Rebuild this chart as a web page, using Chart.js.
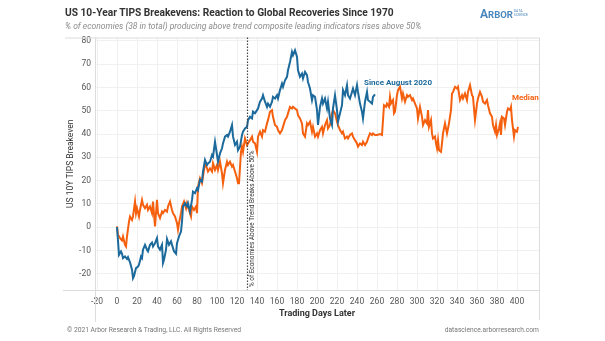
<!DOCTYPE html>
<html>
<head>
<meta charset="utf-8">
<script src="https://cdn.jsdelivr.net/npm/chart.js@4.4.1/dist/chart.umd.min.js"></script>
<style>
  body { margin: 0; background: #fff; font-family: Roboto, "Open Sans", sans-serif; }
  #wrap { position: relative; width: 605px; height: 341px; overflow: hidden; }
  #chart { position: absolute; left: 0; top: 0; }
  .title { position: absolute; left: 65px; top: 7px; font-size: 10.2px; font-weight: bold; color: #333; white-space: nowrap; }
  .subtitle { position: absolute; left: 65px; top: 21px; font-size: 8.5px; font-style: italic; color: #8c8c8c; white-space: nowrap; }
  .logo { position: absolute; left: 480px; top: 3px; color: #4a87bd; white-space: nowrap; font-weight: bold; }
  .logo .big { font-size: 12px; }
  .logo .small { font-size: 9.5px; }
  .logo .tag { display: inline-block; font-size: 3.5px; line-height: 4px; vertical-align: 2px; margin-left: 1px; font-weight: normal; }
  .foot { position: absolute; top: 326px; font-size: 6.7px; color: #777; white-space: nowrap; }
</style>
</head>
<body>
<div id="wrap">
  <canvas id="chart" width="605" height="341"></canvas>
  <div class="title">US 10-Year TIPS Breakevens: Reaction to Global Recoveries Since 1970</div>
  <div class="subtitle">% of economies (38 in total) producing above trend composite leading indicators rises above 50%</div>
  <div class="logo"><span class="big">A</span><span class="small">RBOR</span><span class="tag">DATA<br>SCIENCE</span></div>
  <div class="foot" style="left:67px">© 2021 Arbor Research &amp; Trading, LLC. All Rights Reserved</div>
  <div class="foot" style="right:66px">datascience.arborresearch.com</div>
</div>
<script>
// Trading days after the break, and breakeven change (bp)
const sinceDays = [0, 2, 4, 5, 6, 8, 10, 11, 13, 15, 16, 17, 19, 21, 22, 24, 25, 26, 28, 30, 31, 33, 35, 36, 38, 40, 41, 43, 45, 46, 47, 49, 50, 52, 54, 56, 57, 59, 60, 62, 64, 65, 66, 68, 70, 71, 73, 75, 76, 78, 80, 81, 83, 85, 86, 88, 90, 91, 93, 95, 96, 98, 100, 101, 103, 105, 106, 108, 110, 111, 113, 115, 116, 118, 120, 121, 123, 125, 126, 128, 130, 131, 133, 135, 136, 138, 140, 141, 143, 145, 146, 148, 150, 151, 153, 155, 156, 158, 160, 161, 163, 165, 166, 168, 170, 171, 173, 175, 176, 178, 180, 181, 183, 185, 186, 188, 190, 191, 193, 195, 196, 198, 200, 201, 203, 205, 206, 208, 210, 211, 213, 215, 216, 218, 220, 221, 223, 225, 226, 228, 230, 231, 233, 235, 236, 238, 240, 241, 243, 245, 246, 248, 250, 251, 253, 255, 256, 258];
const sinceVals = [0, -11.9, -10.4, -11.4, -13.3, -12.6, -13.7, -12.9, -15.1, -18.3, -21.9, -21, -17.6, -16.9, -16.1, -12.6, -13.3, -9.7, -7.6, -9.7, -10.4, -7.6, -6.6, -8.3, -6.9, -4.7, -8.3, -9.7, -7.6, -15.4, -14, -9.7, -5.1, -7.6, -6.1, -9, -10.4, -11.4, -6.9, -4, -1.9, 2.4, 8.9, 10.3, 8.9, 10.3, 6.7, 11.7, 15.3, 14.6, 16.7, 16, 20.3, 19.6, 23.9, 28.9, 26.7, 27.4, 28.1, 31, 30.3, 36.7, 31, 28.1, 31.7, 33.9, 36, 38.9, 39.6, 38.9, 41, 43.9, 39, 35.3, 36.7, 33.1, 34.6, 39.6, 41, 42.4, 43.1, 46, 47.4, 46.7, 49.6, 48.9, 50.3, 51, 53.9, 55.3, 56.7, 53.9, 51.7, 53.1, 51.7, 53.9, 56, 55.3, 56.7, 55.3, 58.9, 61.7, 60.3, 63.1, 64.6, 67.4, 71, 75.3, 73.9, 76, 73.1, 67.4, 64.6, 66, 63.9, 66.7, 65.3, 62.4, 59.6, 54.6, 56.7, 56, 50.3, 43.9, 51.7, 55.3, 53.1, 55.3, 51, 53.9, 46.7, 43.9, 51, 56.7, 50.3, 45.3, 48.9, 52.4, 58.9, 56.7, 61, 56.7, 55.3, 58.1, 59.6, 56.7, 61, 58.1, 53.1, 49.6, 46.7, 53.9, 58.1, 54.6, 53.9, 53.1, 56, 57.1];

const medianDays = [0, 1, 3, 5, 6, 8, 9, 10, 12, 13, 15, 16, 18, 19, 20, 22, 23, 25, 26, 28, 30, 31, 33, 35, 36, 38, 40, 41, 43, 45, 46, 48, 50, 51, 53, 55, 56, 58, 60, 61, 62, 64, 65, 67, 69, 70, 72, 74, 75, 77, 79, 80, 81, 83, 85, 86, 88, 90, 91, 93, 95, 96, 98, 100, 101, 103, 105, 106, 108, 110, 111, 113, 115, 116, 118, 120, 121, 122, 124, 125, 126, 128, 130, 131, 133, 135, 136, 138, 140, 141, 143, 145, 146, 148, 150, 151, 153, 155, 156, 158, 160, 161, 163, 165, 166, 168, 170, 171, 173, 175, 176, 178, 180, 181, 183, 185, 186, 188, 190, 191, 193, 195, 196, 198, 200, 201, 203, 205, 206, 208, 210, 211, 213, 215, 216, 218, 220, 221, 223, 225, 226, 228, 230, 231, 233, 235, 236, 238, 240, 241, 243, 245, 246, 248, 250, 251, 253, 255, 256, 258, 260, 263, 265, 267, 269, 270, 272, 273, 274, 276, 277, 278, 280, 281, 283, 285, 286, 288, 290, 291, 293, 295, 296, 298, 300, 301, 303, 305, 306, 308, 310, 311, 312, 314, 315, 316, 318, 319, 320, 321, 322, 324, 325, 326, 328, 330, 331, 332, 334, 335, 336, 338, 340, 341, 343, 345, 346, 348, 350, 351, 353, 355, 356, 358, 360, 361, 363, 365, 366, 368, 370, 371, 373, 375, 376, 378, 379, 380, 382, 383, 384, 385, 387, 388, 390, 391, 393, 394, 395, 397, 398, 400, 401];
const medianVals = [0.3, -3.3, -4.7, -5.7, -4, -7.6, -8.3, -4, 2.4, 4.6, 3.1, 4.6, 11, 6, 8.1, 4.6, 7.4, 11.7, 9.6, 8.1, 9.6, 7.4, 8.9, 6, 11, 0.3, 11.7, 6, 3.9, 6.7, 6, 7.4, 6.7, 8.9, 11, 7.4, 6, 4.6, 1.7, -1.1, 1.7, 6, 8.9, 11, 8.1, 10.3, 7.4, 4.6, 8.9, 7.4, 8.9, 6, 17.4, 21, 18.9, 21.7, 27.4, 25.3, 23.9, 25.3, 23.9, 27.4, 24.6, 26.7, 24.6, 28.1, 23.1, 18.9, 24.6, 28.1, 26.7, 28.1, 26, 26.7, 23.9, 21, 18.9, 18.9, 32.4, 34.6, 32.4, 38.1, 35.3, 36, 37.4, 38.9, 36.7, 36, 32.4, 38.9, 41, 38.9, 41.7, 41, 44.6, 46, 49.6, 50.3, 47.4, 43.9, 43.1, 41.7, 40.3, 41.7, 43.1, 46, 47.4, 48.9, 51.7, 51, 51.7, 51, 50.3, 48.1, 46.7, 44.6, 40.3, 38.9, 44.6, 43.9, 45.3, 41, 43.1, 38.9, 40.3, 38.9, 41.7, 43.1, 40.3, 43.9, 46, 42.4, 43.9, 48.9, 50.3, 48.9, 45.3, 43.9, 41.7, 40.3, 41, 38.1, 38.9, 38.1, 39.6, 40.3, 38.9, 37.4, 36, 34.6, 36, 35.3, 36.7, 35.3, 36.7, 38.1, 40.3, 39.6, 40.3, 39.6, 39.6, 40, 39.6, 52.4, 51.7, 53.1, 51.7, 56, 53.1, 54.6, 48.9, 49.6, 56.7, 58.9, 60.3, 55.3, 57.4, 53.9, 56.7, 56, 56.7, 54.6, 55.3, 53.1, 51, 46.7, 51.7, 47.4, 43.9, 46, 44.6, 50.3, 43.1, 46, 40.3, 38.1, 38.9, 36, 33.9, 37.4, 33.1, 32.4, 36, 40.3, 44.6, 40.3, 42.4, 44.6, 50.3, 57.4, 58.1, 60.3, 59.6, 60.3, 54.6, 56.7, 55.3, 57.4, 54.6, 58.1, 61, 56.7, 56, 46, 53.1, 55.3, 58.1, 56, 53.9, 53.1, 54.6, 52.4, 48.9, 47.4, 43.9, 41, 43.9, 39.6, 42.4, 44.6, 39.6, 47.4, 46.7, 43.9, 49.6, 51, 50.3, 51.7, 46, 38.9, 41.7, 41, 43.1];

const xTicks = [-20, 0, 20, 40, 60, 80, 100, 120, 140, 160, 180, 200, 220, 240, 260, 280, 300, 320, 340, 360, 380, 400];
const yTicks = [-20, -10, 0, 10, 20, 30, 40, 50, 60, 70, 80];
const breakDay = 130;
const breakLabel = '% of Economies Above Trend Breaks Above 50%';

const BLUE = '#1c6a9c';
const ORANGE = '#f5600f';

const toPoints = (xs, ys) => xs.map((x, i) => ({ x: x, y: ys[i] }));

// frame lines, dotted break line and end-of-line labels
const decor = {
  id: 'decor',
  beforeDatasetsDraw(chart) {
    const { ctx, chartArea: a } = chart;
    ctx.save();
    ctx.strokeStyle = '#dcdcdc';
    ctx.lineWidth = 1;
    ctx.beginPath();
    ctx.moveTo(a.left - 30, a.top + 0.5); ctx.lineTo(a.right, a.top + 0.5);
    ctx.moveTo(a.left - 32, a.bottom + 0.5); ctx.lineTo(a.right, a.bottom + 0.5);
    ctx.moveTo(a.left + 0.5, a.top); ctx.lineTo(a.left + 0.5, a.bottom + 32);
    ctx.moveTo(a.right + 0.5, a.top); ctx.lineTo(a.right + 0.5, a.bottom + 30);
    ctx.stroke();
    ctx.restore();
  },
  afterDatasetsDraw(chart) {
    const { ctx, chartArea: a, scales: { x, y } } = chart;
    ctx.save();
    // break line
    const bx = Math.round(x.getPixelForValue(breakDay)) + 0.5;
    ctx.strokeStyle = '#444';
    ctx.lineWidth = 1.2;
    ctx.setLineDash([1.5, 1.5]);
    ctx.beginPath();
    ctx.moveTo(bx, a.top);
    ctx.lineTo(bx, a.bottom);
    ctx.stroke();
    ctx.setLineDash([]);

    ctx.translate(bx + 4.5, a.bottom - 3);
    ctx.rotate(-Math.PI / 2);
    ctx.fillStyle = '#333';
    ctx.font = '6.4px Roboto, sans-serif';
    ctx.textAlign = 'left';
    ctx.textBaseline = 'middle';
    ctx.fillText(breakLabel, 0, 0);
    ctx.restore();

    // series labels
    ctx.save();
    ctx.font = 'bold 8px Roboto, sans-serif';
    ctx.textBaseline = 'middle';
    ctx.textAlign = 'left';
    const sLast = sinceDays.length - 1;
    ctx.fillStyle = BLUE;
    ctx.fillText('Since August 2020',
      x.getPixelForValue(sinceDays[sLast]) - 11,
      y.getPixelForValue(sinceVals[sLast]) - 11);
    const mLast = medianDays.length - 1;
    ctx.fillStyle = ORANGE;
    ctx.fillText('Median',
      x.getPixelForValue(medianDays[mLast]) - 6,
      y.getPixelForValue(medianVals[mLast]) - 29);
    ctx.restore();
  }
};

new Chart(document.getElementById('chart'), {
  type: 'line',
  data: {
    datasets: [
      {
        label: 'Since August 2020',
        data: toPoints(sinceDays, sinceVals),
        borderColor: BLUE,
        borderWidth: 2,
        pointRadius: 0,
        tension: 0
      },
      {
        label: 'Median',
        data: toPoints(medianDays, medianVals),
        borderColor: ORANGE,
        borderWidth: 2,
        pointRadius: 0,
        tension: 0
      }
    ]
  },
  options: {
    responsive: false,
    animation: false,
    events: [],
    layout: { padding: { left: 50, right: 66, top: 37.5, bottom: 16 } },
    plugins: {
      legend: { display: false },
      tooltip: { enabled: false },
      title: { display: false }
    },
    scales: {
      x: {
        type: 'linear',
        min: -22,
        max: 422,
        afterBuildTicks: s => { s.ticks = xTicks.map(v => ({ value: v })); },
        afterFit: s => { s.height = 35; },
        border: { display: false },
        grid: { color: '#f0f0f0', drawTicks: false },
        ticks: {
          autoSkip: false,
          maxRotation: 0,
          padding: 7,
          color: '#555',
          font: { family: 'Roboto', size: 8.5 }
        },
        title: {
          display: true,
          text: 'Trading Days Later',
          color: '#333',
          font: { family: 'Roboto', size: 9, weight: 'bold' },
          padding: { top: 0, bottom: 5.6 }
        }
      },
      y: {
        min: -27,
        max: 81.5,
        afterBuildTicks: s => { s.ticks = yTicks.map(v => ({ value: v })); },
        afterFit: s => { s.width = 45; },
        border: { display: false },
        grid: { color: '#f0f0f0', drawTicks: false },
        ticks: {
          padding: 4,
          color: '#555',
          font: { family: 'Roboto', size: 8.5 }
        },
        title: {
          display: true,
          text: 'US 10Y TIPS Breakeven',
          color: '#333',
          font: { family: 'Roboto', size: 8.5 },
          padding: { top: 16, bottom: 0 }
        }
      }
    }
  },
  plugins: [decor]
});
</script>
</body>
</html>
